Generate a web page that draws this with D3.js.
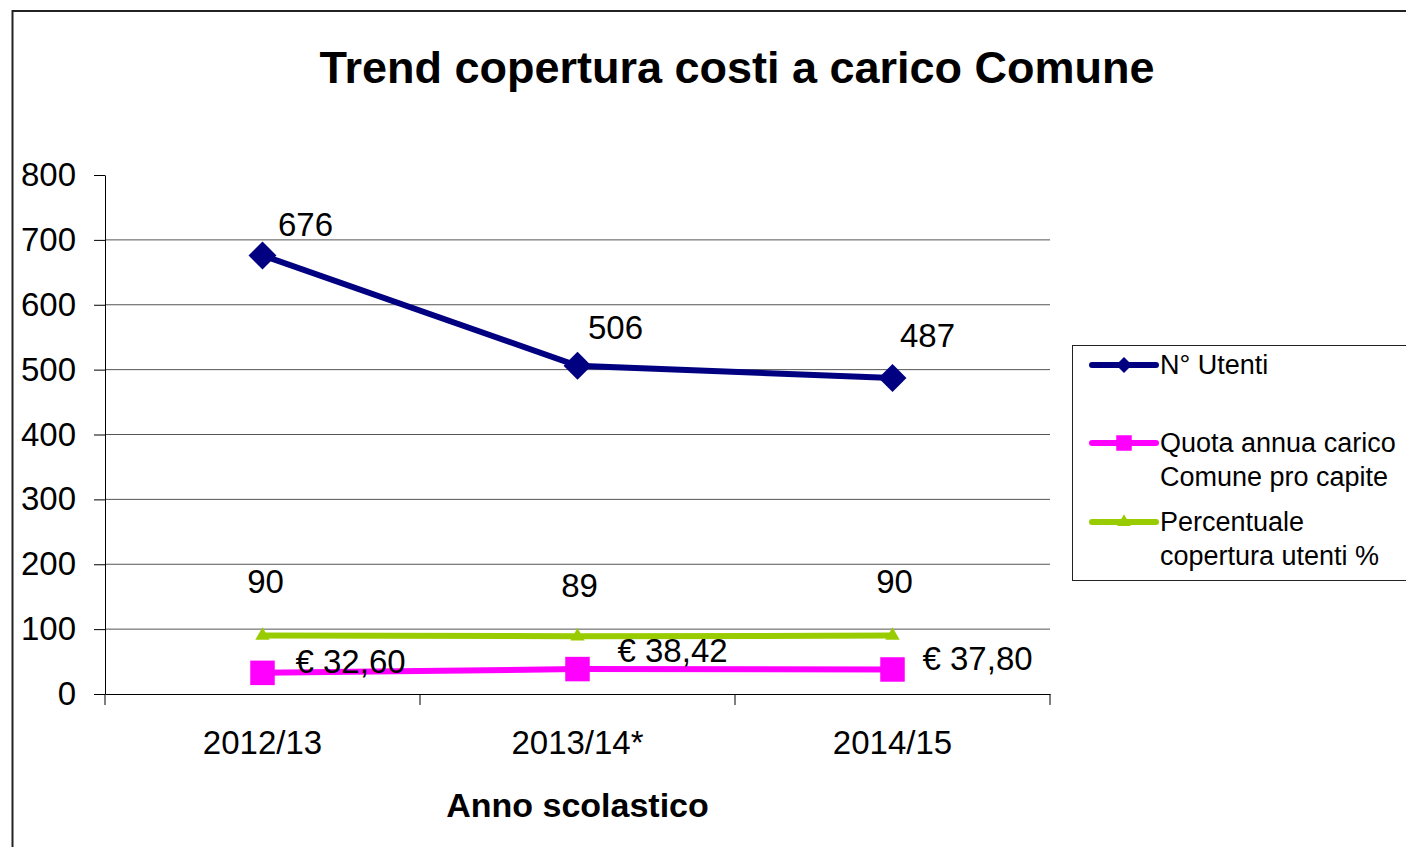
<!DOCTYPE html>
<html>
<head>
<meta charset="utf-8">
<script src="https://cdn.jsdelivr.net/npm/d3@7"></script>
<style>
    body { margin: 0; background: #fff; }
    svg { display: block; font-family: "Liberation Sans", Arial, sans-serif; }
</style>
</head>
<body>
<div class="chart-container"></div>
<script>
// chart values
const categories = ["2012/13", "2013/14*", "2014/15"];
const utenti = [676, 506, 487];
const quotaProCapite = [32.60, 38.42, 37.80];
const percentualeCopertura = [90, 89, 90];
const yTicks = [0, 100, 200, 300, 400, 500, 600, 700, 800];
const legendUtenti = ["N° Utenti"];
const legendQuota = ["Quota annua carico", "Comune pro capite"];
const legendPercentuale = ["Percentuale", "copertura utenti %"];

// label nudges (px) as placed in the original spreadsheet chart
const nudgeUtenti = [[43, -19], [38, -27], [35, -31]];
const nudgeQuota = [[33, 0], [40, -7], [30, 1]];
const nudgePercentuale = [[3, -43], [2, -39], [2, -43]];

const itLocale = d3.formatLocale({ decimal: ",", thousands: ".", grouping: [3], currency: ["€ ", ""] });
const fmtEuro = (v) => "€ " + itLocale.format(".2f")(v);
const fmtInt = (v) => d3.format("d")(v);

const width = 1406, height = 847;
const plot = { left: 105, right: 1050, top: 175, bottom: 694 };

let svg = d3.select(".chart-container").append("svg")
    .attr("width", width)
    .attr("height", height);

svg.append("rect").attr("width", width).attr("height", height).attr("fill", "#fff");

// outer chart border (runs past the right/bottom edge of the picture)
svg.append("rect")
    .attr("x", 12.5).attr("y", 11)
    .attr("width", 1420).attr("height", 860)
    .attr("fill", "none")
    .attr("stroke", "#222")
    .attr("stroke-width", 2);

svg.append("text")
    .attr("x", 737).attr("y", 83)
    .attr("text-anchor", "middle")
    .attr("font-size", 45)
    .attr("font-weight", "bold")
    .text("Trend copertura costi a carico Comune");

let x = d3.scaleBand().domain(categories).range([plot.left, plot.right]);
let y = d3.scaleLinear().domain([0, 800]).range([plot.bottom, plot.top]);

// gridlines (none on top value)
svg.append("g")
    .selectAll("line")
    .data(yTicks.filter(d => d > 0 && d < 800))
    .join("line")
    .attr("x1", plot.left).attr("x2", plot.right)
    .attr("y1", d => y(d)).attr("y2", d => y(d))
    .attr("stroke", "#555")
    .attr("stroke-width", 1);

// Y axis
let yAxis = svg.append("g")
    .attr("transform", `translate(${plot.left},0)`)
    .call(d3.axisLeft(y).tickValues(yTicks).tickSize(11).tickSizeOuter(0).tickPadding(18).tickFormat(d3.format("d")));
yAxis.selectAll("text").attr("font-size", 33).attr("fill", "#000").attr("font-family", "Liberation Sans, Arial, sans-serif");
yAxis.selectAll("line, path").attr("stroke", "#000");

// X axis
let xAxis = svg.append("g")
    .attr("transform", `translate(0,${plot.bottom})`)
    .call(d3.axisBottom(x).tickSize(0).tickPadding(37));
xAxis.selectAll("text").attr("font-size", 33).attr("fill", "#000").attr("font-family", "Liberation Sans, Arial, sans-serif");
xAxis.select("path").attr("stroke", "#000");
xAxis.selectAll(".boundary")
    .data(d3.range(categories.length + 1))
    .join("line")
    .attr("class", "boundary")
    .attr("x1", i => plot.left + i * x.step())
    .attr("x2", i => plot.left + i * x.step())
    .attr("y1", 0).attr("y2", 11)
    .attr("stroke", "#000");

svg.append("text")
    .attr("x", (plot.left + plot.right) / 2).attr("y", 817)
    .attr("text-anchor", "middle")
    .attr("font-size", 34)
    .attr("font-weight", "bold")
    .text("Anno scolastico");

const series = [
    { values: percentualeCopertura, color: "#99cc00", symbol: d3.symbolTriangle, size: 90, rotate: 0,
      fmt: fmtInt, anchor: "middle", nudge: nudgePercentuale },
    { values: quotaProCapite, color: "#ff00ff", symbol: d3.symbolSquare, size: 600, rotate: 0,
      fmt: fmtEuro, anchor: "start", nudge: nudgeQuota },
    { values: utenti, color: "#000080", symbol: d3.symbolSquare, size: 390, rotate: 45,
      fmt: fmtInt, anchor: "middle", nudge: nudgeUtenti }
];

let line = d3.line()
    .x((d, i) => x(categories[i]) + x.bandwidth() / 2)
    .y(d => y(d));

series.forEach(s => {
    let g = svg.append("g");
    g.append("path")
        .datum(s.values)
        .attr("fill", "none")
        .attr("stroke", s.color)
        .attr("stroke-width", 6)
        .attr("d", line);
    g.selectAll("path.marker")
        .data(s.values)
        .join("path")
        .attr("class", "marker")
        .attr("d", d3.symbol().type(s.symbol).size(s.size))
        .attr("fill", s.color)
        .attr("transform", (d, i) => `translate(${x(categories[i]) + x.bandwidth() / 2},${y(d)}) rotate(${s.rotate})`);
    svg.append("g")
        .selectAll("text")
        .data(s.values)
        .join("text")
        .attr("x", (d, i) => x(categories[i]) + x.bandwidth() / 2 + s.nudge[i][0])
        .attr("y", (d, i) => y(d) + s.nudge[i][1])
        .attr("text-anchor", s.anchor)
        .attr("font-size", 33)
        .text(d => s.fmt(d));
});

// legend
let legend = svg.append("g");
legend.append("rect")
    .attr("x", 1072.5).attr("y", 345.5)
    .attr("width", 400).attr("height", 235)
    .attr("fill", "#fff")
    .attr("stroke", "#222")
    .attr("stroke-width", 1);

const legendItems = [
    { lines: legendUtenti, color: "#000080", symbol: d3.symbolSquare, size: 130, rotate: 45, y: 365 },
    { lines: legendQuota, color: "#ff00ff", symbol: d3.symbolSquare, size: 240, rotate: 0, y: 443 },
    { lines: legendPercentuale, color: "#99cc00", symbol: d3.symbolTriangle, size: 80, rotate: 0, y: 522 }
];

legendItems.forEach(item => {
    legend.append("line")
        .attr("x1", 1092).attr("x2", 1156)
        .attr("y1", item.y).attr("y2", item.y)
        .attr("stroke", item.color)
        .attr("stroke-width", 6)
        .attr("stroke-linecap", "round");
    legend.append("path")
        .attr("d", d3.symbol().type(item.symbol).size(item.size))
        .attr("fill", item.color)
        .attr("transform", `translate(1124,${item.y}) rotate(${item.rotate})`);
    item.lines.forEach((t, i) => {
        legend.append("text")
            .attr("x", 1160)
            .attr("y", item.y + 9 + i * 34)
            .attr("font-size", 27)
            .text(t);
    });
});
</script>
</body>
</html>
